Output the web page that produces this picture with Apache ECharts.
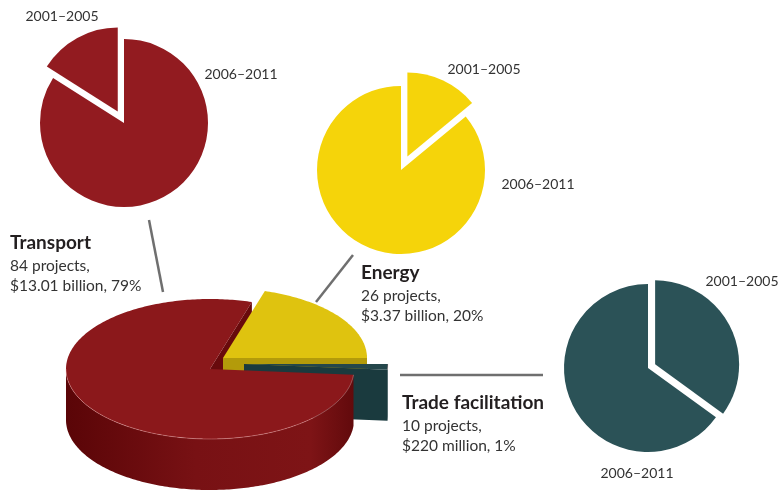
<!DOCTYPE html>
<html>
<head>
<meta charset="utf-8">
<script src="https://cdn.jsdelivr.net/npm/echarts@6/dist/echarts.min.js"></script>
<style>
  html, body { margin: 0; padding: 0; background: #fff; }
  #chart { width: 782px; height: 493px; }
</style>
</head>
<body>
<div id="chart"></div>
<script>
// sector totals (main 3D pie)
const sectors = ['Transport', 'Energy', 'Trade facilitation']
const valuesBn = [13.01, 3.37, 0.22]
const projects = [84, 26, 10]
const amounts = ['$13.01 billion', '$3.37 billion', '$220 million']
const sharePct = [79, 20, 1]

// split of each sector by period (small pies), % of sector value
const periods = ['2001–2005', '2006–2011']
const earlyPct = [16, 14, 35]
const latePct = [84, 86, 65]

const FONT = 'Lato, "Open Sans", sans-serif'
const smallColors = ['#921b20', '#f5d40a', '#2b5257']

// ---- main pie geometry / style ----
const P = { cx: 210, cy: 369, rx: 144, ry: 70, depth: 51 }
const explode = [[0, 0], [13, -11], [34, -5]]
const topColor = ['#8b181b', '#dfc30f', '#24474b']
const cutColor = ['#680a0c', '#b39b0a', '#1a3a3e']
const sideColor = [
  { type: 'linear', x: 0, y: 0, x2: 1, y2: 0, colorStops: [
    { offset: 0, color: '#5a0507' }, { offset: 0.45, color: '#781114' },
    { offset: 0.85, color: '#7e1416' }, { offset: 1, color: '#620a0c' }] },
  '#b39b0a',
  '#1a3a3e'
]
const cutZ = [1, 2, 3]
const topZ = [22, 20, 21]

const total = valuesBn.reduce((a, b) => a + b, 0)
// slices run clockwise; Energy ends at east (0 deg)
let acc = 360 * (valuesBn[0] + valuesBn[1]) / total
const ranges = valuesBn.map(v => {
  const hi = acc
  acc -= v / total * 360
  return [acc, hi]
})

const rad = d => d * Math.PI / 180
function pt (a, o, dz) {
  return [P.cx + o[0] + P.rx * Math.cos(rad(a)), P.cy + o[1] - P.ry * Math.sin(rad(a)) + (dz || 0)]
}
function arc (lo, hi, o, dz) {
  const pts = []
  const n = Math.max(2, Math.ceil((hi - lo) / 1))
  for (let k = 0; k <= n; k++) pts.push(pt(lo + (hi - lo) * k / n, o, dz))
  return pts
}

function renderSlice (params, api) {
  const i = params.dataIndex
  const [lo, hi] = ranges[i]
  const o = explode[i]
  const c = [P.cx + o[0], P.cy + o[1]]
  const d = P.depth
  const children = []
  // cut faces (only the ones turned to the viewer)
  const cuts = []
  if (Math.cos(rad(lo)) > 0) cuts.push(lo)
  if (Math.cos(rad(hi)) < 0) cuts.push(hi)
  cuts.forEach(a => {
    const r = pt(a, o)
    children.push({
      type: 'polygon', z2: cutZ[i],
      shape: { points: [c, r, [r[0], r[1] + d], [c[0], c[1] + d]] },
      style: { fill: cutColor[i] }
    })
  })
  // outer side, front half only
  const fronts = [[180, 360], [-180, 0], [540, 720]]
  fronts.forEach(([f0, f1]) => {
    const a0 = Math.max(lo, f0)
    const a1 = Math.min(hi, f1)
    if (a1 - a0 < 0.05) return
    const top = arc(a0, a1, o)
    const bot = arc(a0, a1, o, d).reverse()
    children.push({
      type: 'polygon', z2: 10,
      shape: { points: top.concat(bot) },
      style: { fill: sideColor[i] }
    })
    children.push({
      type: 'polyline', z2: 30,
      shape: { points: top },
      style: { stroke: 'rgba(255,190,190,0.35)', lineWidth: 1, fill: null }
    })
  })
  // top face
  children.push({
    type: 'polygon', z2: topZ[i],
    shape: { points: [c].concat(arc(lo, hi, o)) },
    style: { fill: topColor[i] }
  })
  return { type: 'group', children }
}

// ---- small pies ----
const smallCenters = [[124, 123], [401, 170], [648, 368]]
const smallOffsets = [13, 15, 8]
// year label centres: [early, late] for each small pie
const yearPos = [
  [[62, 16], [241, 74]],
  [[484, 69], [538, 184]],
  [[742, 281], [637, 473]]
]

function smallPie (i) {
  const early = { name: periods[0], value: earlyPct[i], selected: true }
  const late = { name: periods[1], value: latePct[i] }
  return {
    type: 'pie',
    center: smallCenters[i],
    radius: 84,
    startAngle: 90,
    clockwise: true,
    selectedMode: 'single',
    selectedOffset: smallOffsets[i],
    itemStyle: { color: smallColors[i] },
    label: { show: false },
    labelLine: { show: false },
    emphasis: { disabled: true },
    // Transport's early slice sits just left of 12 o'clock
    data: i === 0 ? [late, early] : [early, late]
  }
}

// ---- annotations ----
const textPos = [[10, 243], [361, 273], [402, 403]]
const leaders = [
  [[149, 220], [163, 292]],
  [[353, 255], [316, 302]],
  [[400, 375], [543, 375]]
]
const graphics = []
sectors.forEach((s, i) => {
  const [x, y] = textPos[i]
  graphics.push({
    type: 'text', x: x, y: y, z: 50,
    style: { text: s, font: 'bold 19px ' + FONT, fill: '#231f20', verticalAlign: 'middle' }
  })
  graphics.push({
    type: 'text', x: x, y: y + 23, z: 50,
    style: { text: projects[i] + ' projects,', font: '15.5px ' + FONT, fill: '#333', verticalAlign: 'middle' }
  })
  graphics.push({
    type: 'text', x: x, y: y + 43, z: 50,
    style: { text: amounts[i] + ', ' + sharePct[i] + '%', font: '15.5px ' + FONT, fill: '#333', verticalAlign: 'middle' }
  })
  graphics.push({
    type: 'line', z: 50,
    shape: { x1: leaders[i][0][0], y1: leaders[i][0][1], x2: leaders[i][1][0], y2: leaders[i][1][1] },
    style: { stroke: '#6f6f6f', lineWidth: 2.5 }
  })
  periods.forEach((p, k) => {
    graphics.push({
      type: 'text', x: yearPos[i][k][0], y: yearPos[i][k][1], z: 50,
      style: { text: p, font: '14px ' + FONT, fill: '#333', align: 'center', verticalAlign: 'middle' }
    })
  })
})

const chart = echarts.init(document.getElementById('chart'))
chart.setOption({
  animation: false,
  backgroundColor: '#fff',
  graphic: graphics,
  series: [
    {
      type: 'custom',
      coordinateSystem: 'none',
      renderItem: renderSlice,
      data: sectors.map((s, i) => ({ name: s, value: valuesBn[i] }))
    },
    smallPie(0),
    smallPie(1),
    smallPie(2)
  ]
})
</script>
</body>
</html>
